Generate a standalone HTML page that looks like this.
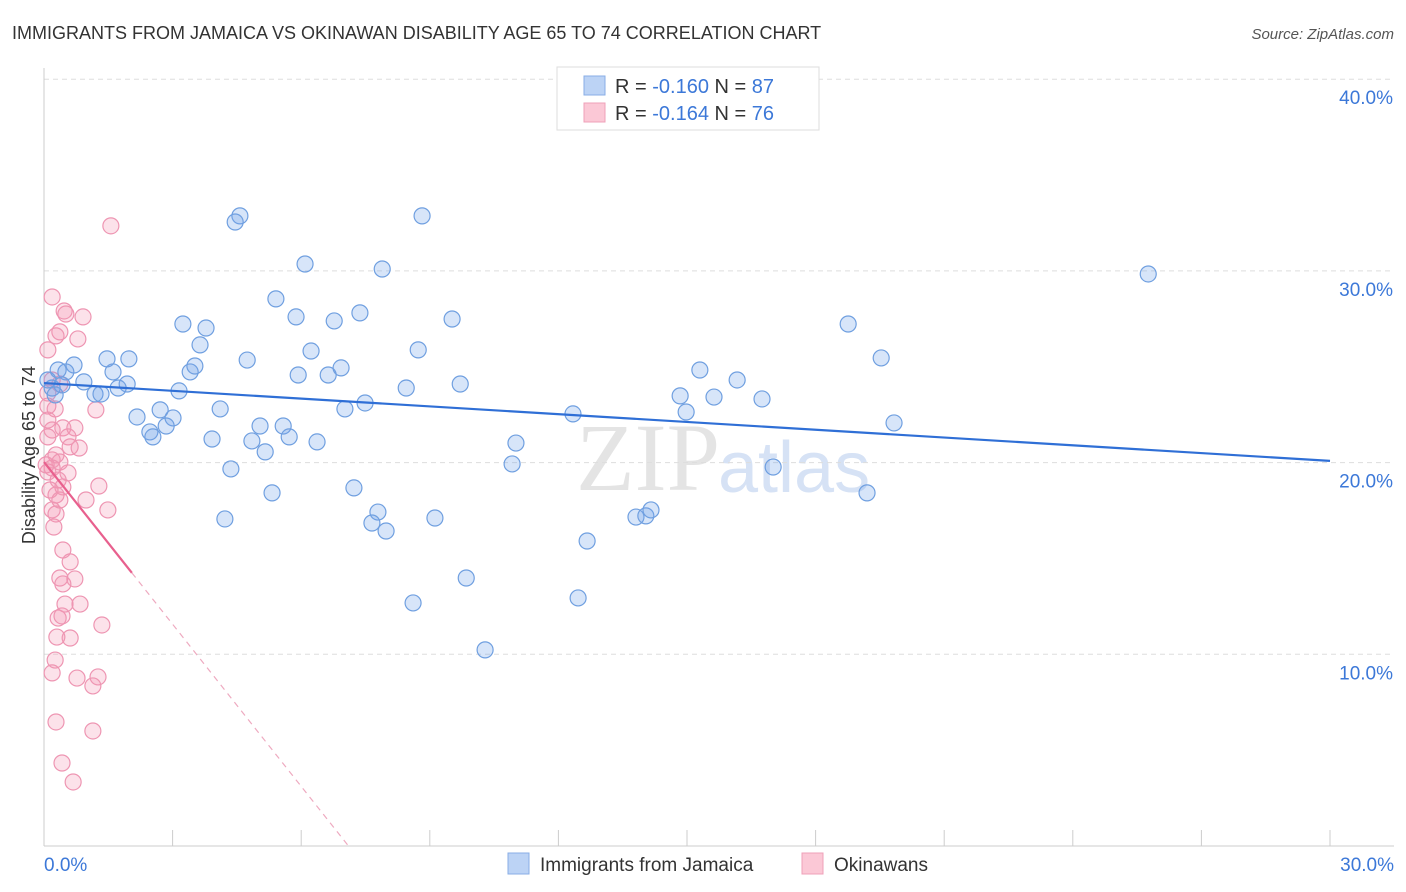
<!DOCTYPE html>
<html><head><meta charset="utf-8"><style>
body{margin:0;background:#fff;font-family:"Liberation Sans",sans-serif;}
svg{display:block}
</style></head><body>
<svg id="chart" width="1406" height="892" xmlns="http://www.w3.org/2000/svg">
<text x="12" y="39" font-size="18" fill="#333">IMMIGRANTS FROM JAMAICA VS OKINAWAN DISABILITY AGE 65 TO 74 CORRELATION CHART</text>
<text x="1394" y="39" font-size="15" fill="#555" font-style="italic" text-anchor="end">Source: ZipAtlas.com</text>
<text x="720" y="490" font-size="96" fill="#e4e4e4" font-family="Liberation Serif" text-anchor="end">ZIP</text>
<text x="718" y="492" font-size="72" fill="#d6e2f5">atlas</text>
<g id="grid"></g>
<g id="marks"></g>
<text x="35" y="455" font-size="18" fill="#333" text-anchor="middle" transform="rotate(-90 35 455)">Disability Age 65 to 74</text>
<g>
<rect x="557" y="67" width="262" height="63" fill="#fff" stroke="#ddd"/>
<rect x="584" y="76" width="21" height="19" fill="#bcd3f5" stroke="#88aee6"/>
<text x="615" y="93" font-size="20" fill="#333">R = <tspan fill="#3c78d8">-0.160</tspan>   N = <tspan fill="#3c78d8">87</tspan></text>
<rect x="584" y="103" width="21" height="19" fill="#fbc8d6" stroke="#efa0b8"/>
<text x="615" y="120" font-size="20" fill="#333">R = <tspan fill="#3c78d8">-0.164</tspan>   N = <tspan fill="#3c78d8">76</tspan></text>
</g>
<g>
<rect x="508" y="853" width="21" height="21" fill="#bcd3f5" stroke="#88aee6"/>
<text x="540" y="871" font-size="19" fill="#333">Immigrants from Jamaica</text>
<rect x="802" y="853" width="21" height="21" fill="#fbc8d6" stroke="#efa0b8"/>
<text x="834" y="871" font-size="19" fill="#333">Okinawans</text>
</g>
</svg>
<script>
const xTicks=[0,3,6,9,12,15,18,21,24,27,30];
const yTicks=[10,20,30,40];
const xLabels=["0.0%","30.0%"];
const blueX=[4.57,4.46,8.82,6.09,7.89,5.41,5.88,6.77,7.37,3.24,3.78,3.64,9.52,6.23,8.73,18.76,19.53,25.76,1.47,1.98,0.70,0.51,1.61,3.41,3.52,4.74,5.93,6.63,6.93,0.93,1.94,1.73,1.19,1.33,3.15,8.45,9.71,15.30,16.17,14.84,15.63,16.75,7.49,7.02,4.11,2.71,2.17,3.01,2.85,2.47,2.54,3.92,4.85,5.04,5.58,5.72,6.37,5.16,12.34,14.98,19.83,11.01,10.92,4.36,17.01,5.32,7.23,4.22,7.79,7.65,7.98,9.12,13.81,14.04,14.16,12.67,19.20,9.85,8.61,12.46,10.29,0.33,0.19,0.42,0.26,0.09];
const blueY=[32.87,32.55,32.87,30.36,30.10,28.54,27.60,27.39,27.81,27.23,27.02,26.14,27.49,25.82,25.88,27.23,25.46,29.84,25.41,25.41,25.09,24.73,24.73,24.73,25.04,25.35,24.57,24.57,24.94,24.21,24.10,23.89,23.58,23.58,23.74,23.89,24.10,24.83,24.31,23.48,23.42,23.32,23.11,22.80,22.80,22.75,22.38,22.33,21.91,21.60,21.34,21.23,21.13,21.91,21.91,21.34,21.08,20.56,22.54,22.64,22.07,21.02,19.93,19.67,19.77,18.42,18.68,17.06,17.42,16.85,16.43,17.11,17.16,17.22,17.53,15.91,18.42,13.98,12.68,12.94,10.23,24.83,23.89,24.05,23.53,24.31];
const pinkX=[1.56,0.19,0.47,0.51,0.91,0.37,0.28,0.79,0.09,0.19,0.09,0.37,0.26,1.21,0.09,0.44,0.72,0.19,0.56,0.61,0.82,0.09,0.28,0.19,0.37,0.19,0.56,0.09,0.33,0.44,1.28,0.28,0.19,0.28,1.49,0.98,0.23,0.44,0.61,0.37,0.72,0.44,0.49,0.84,0.33,0.42,1.35,0.61,0.30,0.26,0.19,1.26,0.77,1.14,0.28,1.14,0.42,0.68,0.09,0.05,0.14,0.37];
const pinkY=[32.35,28.64,27.91,27.75,27.60,26.82,26.61,26.45,25.88,24.31,23.63,24.10,22.80,22.75,22.95,21.81,21.81,21.70,21.34,20.82,20.76,21.34,20.40,20.14,20.03,19.72,19.46,19.51,19.09,18.73,18.78,18.31,17.53,17.32,17.53,18.05,16.64,15.44,14.82,13.98,13.93,13.67,12.62,12.62,11.89,12.00,11.53,10.85,10.90,9.70,9.03,8.82,8.76,8.35,6.47,6.00,4.33,3.34,22.22,19.88,18.57,18.05];
const blueTrend=[24.15,20.09];
const pinkTrend=[20.03,2.82]; // intercept, slope per %
const NS="http://www.w3.org/2000/svg";
const X=v=>44+v/30*1286, Y=v=>846-v/10*191.7;
function mk(tag,attrs,parent){const e=document.createElementNS(NS,tag);for(const k in attrs)e.setAttribute(k,attrs[k]);parent.appendChild(e);return e;}
const grid=document.getElementById('grid'),marks=document.getElementById('marks');
yTicks.forEach(t=>{
 const l=mk('line',{x1:44,x2:1394,y1:Y(t),y2:Y(t),stroke:'#ddd','stroke-dasharray':'5,4'},grid);
 
 
 const tx=mk('text',{x:1393,y:Y(t)+25,'font-size':19,fill:'#3c78d8','text-anchor':'end'},grid);
 tx.textContent=t.toFixed(1)+'%';
 
 
});
const ax=mk('line',{x1:44,x2:1394,y1:846,y2:846,stroke:'#ccc'},grid);


const ay=mk('line',{x1:44,x2:44,y1:68,y2:846,stroke:'#ccc'},grid);


xTicks.forEach(t=>{
 const l=mk('line',{x1:X(t),x2:X(t),y1:830,y2:846,stroke:'#ccc'},grid);
 
 
});
[[0,'start',xLabels[0]],[30,'end',xLabels[1]]].forEach(([v,a,s])=>{
 const tx=mk('text',{x:v===0?44:1394,y:871,'font-size':19,fill:'#3c78d8','text-anchor':a},grid);
 tx.textContent=s;
 
 
});
pinkX.forEach((x,i)=>{
 const c=mk('circle',{cx:X(x),cy:Y(pinkY[i]),r:8,fill:'rgba(244,150,180,0.28)',stroke:'#ee95b2','stroke-width':1.2},marks);
 
 
});
blueX.forEach((x,i)=>{
 const c=mk('circle',{cx:X(x),cy:Y(blueY[i]),r:8,fill:'rgba(110,160,235,0.28)',stroke:'#6f9fe0','stroke-width':1.2},marks);
 
 
});
const bl=mk('line',{x1:X(0),y1:Y(blueTrend[0]),x2:X(30),y2:Y(blueTrend[1]),stroke:'#2f6fd6','stroke-width':2.2},marks);


const xs=2.05,xe=pinkTrend[0]/pinkTrend[1];
const ps=mk('line',{x1:X(0),y1:Y(pinkTrend[0]),x2:X(xs),y2:Y(pinkTrend[0]-pinkTrend[1]*xs),stroke:'#e8608e','stroke-width':2.2},marks);


const pd=mk('line',{x1:X(xs),y1:Y(pinkTrend[0]-pinkTrend[1]*xs),x2:X(xe),y2:Y(0),stroke:'#eeaac0','stroke-width':1.2,'stroke-dasharray':'6,5'},marks);


</script>
</body></html>
